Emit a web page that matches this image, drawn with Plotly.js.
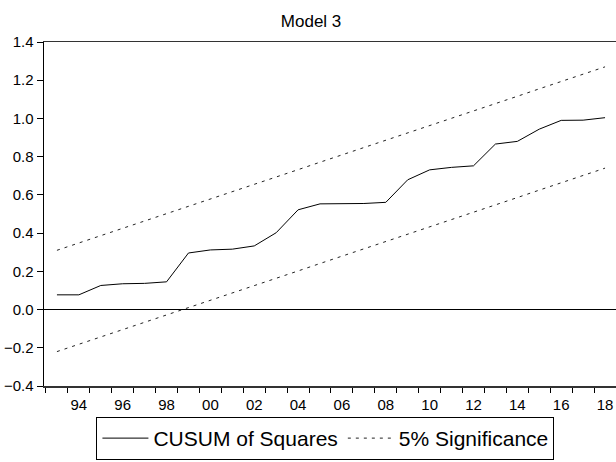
<!DOCTYPE html>
<html>
<head>
<meta charset="utf-8">
<script src="https://cdn.plot.ly/plotly-3.0.1.min.js"></script>
<style>html,body{margin:0;padding:0;background:#fff;} #chart{width:616px;height:462px;}</style>
</head>
<body>
<div id="chart"></div>
<script>
// Observation years (annual)
const years = [1993,1994,1995,1996,1997,1998,1999,2000,2001,2002,2003,2004,2005,
               2006,2007,2008,2009,2010,2011,2012,2013,2014,2015,2016,2017,2018];
// CUSUM of Squares statistic
const cusumSq = [0.077,0.077,0.126,0.135,0.137,0.145,0.296,0.312,0.316,0.333,0.402,0.522,0.553,
                 0.553,0.555,0.561,0.679,0.731,0.744,0.752,0.866,0.880,0.944,0.990,0.991,1.004];
// 5% significance bounds
const upperBound = [0.310,0.348,0.387,0.425,0.464,0.502,0.540,0.579,0.617,0.656,0.694,0.732,0.771,
                    0.809,0.848,0.886,0.924,0.963,1.001,1.040,1.078,1.116,1.155,1.193,1.232,1.270];
const lowerBound = [-0.220,-0.182,-0.143,-0.105,-0.066,-0.028,0.010,0.049,0.087,0.126,0.164,0.202,0.241,
                    0.279,0.318,0.356,0.394,0.433,0.471,0.510,0.548,0.586,0.625,0.663,0.702,0.740];
// Axis ticks (year boundaries) and labels (centred on the year)
const tickYears = [1993,1994,1995,1996,1997,1998,1999,2000,2001,2002,2003,2004,2005,
                   2006,2007,2008,2009,2010,2011,2012,2013,2014,2015,2016,2017,2018,2019];
const labelYears = [1994,1996,1998,2000,2002,2004,2006,2008,2010,2012,2014,2016,2018];
const labelText = ['94','96','98','00','02','04','06','08','10','12','14','16','18'];

const xMid = years.map(y => y + 0.5);
const xRange = [1992.91, 2019.0];
const FONT = 'Liberation Sans, Arial, sans-serif';

const traces = [
  {x: xMid, y: cusumSq, type: 'scatter', mode: 'lines', name: 'CUSUM of Squares',
   line: {color: '#000', width: 1}},
  {x: xMid, y: upperBound, type: 'scatter', mode: 'lines', name: '5% Significance',
   legendgroup: 'sig', line: {color: '#222', width: 1, dash: '3px,5px'}},
  {x: xMid, y: lowerBound, type: 'scatter', mode: 'lines', name: '5% Significance',
   legendgroup: 'sig', showlegend: false, line: {color: '#222', width: 1, dash: '3px,5px'}},
  // invisible trace to hold the label axis
  {x: [xRange[0]], y: [0], xaxis: 'x2', type: 'scatter', mode: 'markers',
   marker: {opacity: 0}, showlegend: false, hoverinfo: 'skip'}
];

const layout = {
  width: 616, height: 462,
  margin: {l: 44, r: 0, t: 42, b: 76},
  paper_bgcolor: '#fff', plot_bgcolor: '#fff',
  font: {family: FONT, size: 15, color: '#000'},
  title: {text: 'Model 3', font: {family: FONT, size: 17, color: '#000'},
          x: 0.505, xanchor: 'center', y: 0.955, yanchor: 'middle'},
  showlegend: true,
  legend: {orientation: 'h', x: 0.492, xanchor: 'center', y: -0.09, yanchor: 'top',
           font: {family: FONT, size: 21, color: '#000'}, itemwidth: 46,
           bordercolor: '#000', borderwidth: 1, bgcolor: '#fff', traceorder: 'normal'},
  xaxis: {range: xRange, tickmode: 'array', tickvals: tickYears,
          ticktext: tickYears.map(() => ''), ticks: 'outside', ticklen: 5,
          tickcolor: '#000', tickwidth: 1, showline: true, linecolor: '#333', linewidth: 1.5,
          mirror: true, showgrid: false, zeroline: false, fixedrange: true},
  xaxis2: {range: xRange, overlaying: 'x', anchor: 'y', side: 'bottom', tickmode: 'array',
           tickvals: labelYears.map(y => y + 0.5), ticktext: labelText,
           ticks: 'outside', ticklen: 5, tickcolor: 'rgba(0,0,0,0)',
           showline: false, showgrid: false, zeroline: false,
           tickfont: {family: FONT, size: 15, color: '#000'}},
  yaxis: {range: [-0.4, 1.4], dtick: 0.2, tick0: 0, tickformat: '.1f',
          ticks: 'outside', ticklen: 6, tickcolor: '#000', tickwidth: 1,
          showline: true, linecolor: '#000', linewidth: 1.5, showgrid: false,
          zeroline: true, zerolinecolor: '#000', zerolinewidth: 1.2,
          tickfont: {family: FONT, size: 15, color: '#000'}}
};

Plotly.newPlot('chart', traces, layout, {displayModeBar: false, staticPlot: true});
</script>
</body>
</html>
